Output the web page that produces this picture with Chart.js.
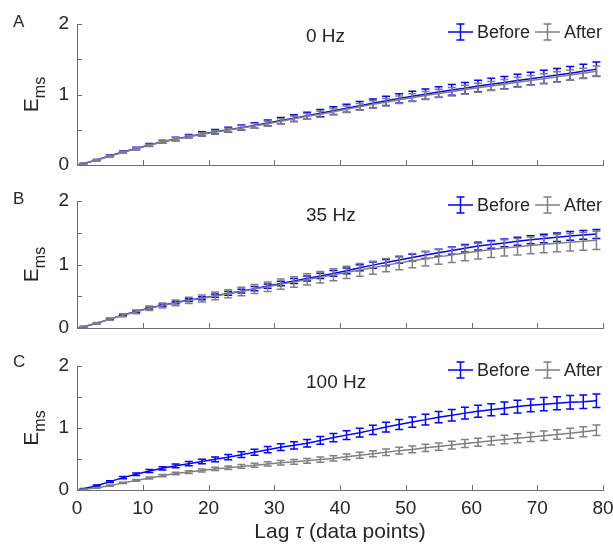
<!DOCTYPE html>
<html>
<head>
<meta charset="utf-8">
<script src="https://cdn.jsdelivr.net/npm/chart.js@4.4.0/dist/chart.umd.min.js"></script>
<style>
  html, body { margin: 0; padding: 0; background: #fff; }
  #wrap { position: relative; width: 613px; height: 548px; }
  canvas { position: absolute; left: 0; }
</style>
</head>
<body>
<div id="wrap">
  <canvas id="panelA" width="613" height="180" style="top:0px"></canvas>
  <canvas id="panelB" width="613" height="165" style="top:180px"></canvas>
  <canvas id="panelC" width="613" height="203" style="top:345px"></canvas>
</div>
<script>
// lag values (data points) where the curves / error bars sit
const lags = [0, 1, 3, 5, 7, 9, 11, 13, 15, 17, 19, 21, 23, 25, 27, 29, 31, 33, 35, 37, 39,
  41, 43, 45, 47, 49, 51, 53, 55, 57, 59, 61, 63, 65, 67, 69, 71, 73, 75, 77, 79];

// A - 0 Hz
const beforeA = [0, 0.02, 0.07, 0.13, 0.185, 0.235, 0.285, 0.33, 0.37, 0.405, 0.44, 0.47, 0.50, 0.53, 0.56, 0.595,
  0.63, 0.665, 0.70, 0.735, 0.77, 0.805, 0.84, 0.875, 0.91, 0.945, 0.975, 1.005, 1.035, 1.065, 1.09,
  1.12, 1.145, 1.17, 1.20, 1.225, 1.25, 1.275, 1.30, 1.33, 1.36];
const beforeAErr = [0, 0.004, 0.008, 0.012, 0.015, 0.017, 0.02, 0.022, 0.025, 0.027, 0.03, 0.032, 0.035, 0.037, 0.04, 0.042,
  0.045, 0.047, 0.05, 0.052, 0.055, 0.057, 0.06, 0.062, 0.065, 0.067, 0.07, 0.072, 0.075, 0.077, 0.08,
  0.082, 0.084, 0.087, 0.089, 0.091, 0.093, 0.095, 0.097, 0.099, 0.10];
const afterA = [0, 0.02, 0.07, 0.125, 0.18, 0.23, 0.28, 0.325, 0.365, 0.40, 0.435, 0.465, 0.495, 0.525, 0.555, 0.585,
  0.62, 0.655, 0.69, 0.72, 0.755, 0.79, 0.825, 0.86, 0.89, 0.925, 0.955, 0.985, 1.015, 1.04, 1.07,
  1.095, 1.12, 1.145, 1.175, 1.20, 1.225, 1.25, 1.275, 1.30, 1.33];
const afterAErr = [0, 0.004, 0.008, 0.01, 0.012, 0.014, 0.016, 0.018, 0.02, 0.022, 0.024, 0.026, 0.028, 0.03, 0.032, 0.034,
  0.036, 0.038, 0.04, 0.042, 0.044, 0.046, 0.048, 0.05, 0.052, 0.054, 0.056, 0.057, 0.059, 0.06, 0.062,
  0.063, 0.065, 0.066, 0.068, 0.069, 0.07, 0.072, 0.073, 0.074, 0.075];

// B - 35 Hz
const beforeB = [0, 0.02, 0.075, 0.14, 0.205, 0.26, 0.315, 0.36, 0.40, 0.44, 0.47, 0.51, 0.545, 0.58, 0.62, 0.66,
  0.70, 0.74, 0.78, 0.82, 0.86, 0.90, 0.95, 0.99, 1.03, 1.07, 1.11, 1.15, 1.185, 1.22, 1.255,
  1.29, 1.315, 1.34, 1.365, 1.39, 1.41, 1.43, 1.45, 1.465, 1.48];
const beforeBErr = [0, 0.004, 0.007, 0.01, 0.012, 0.014, 0.016, 0.018, 0.02, 0.022, 0.024, 0.026, 0.028, 0.03, 0.032, 0.034,
  0.036, 0.038, 0.04, 0.042, 0.044, 0.045, 0.047, 0.048, 0.05, 0.051, 0.053, 0.054, 0.056, 0.057, 0.058,
  0.06, 0.061, 0.062, 0.063, 0.064, 0.066, 0.067, 0.068, 0.069, 0.07];
const afterB = [0, 0.02, 0.075, 0.14, 0.20, 0.255, 0.31, 0.355, 0.395, 0.435, 0.465, 0.505, 0.54, 0.575, 0.615, 0.65,
  0.69, 0.725, 0.765, 0.80, 0.84, 0.875, 0.915, 0.95, 0.99, 1.025, 1.06, 1.09, 1.12, 1.15, 1.18,
  1.21, 1.235, 1.26, 1.28, 1.30, 1.32, 1.335, 1.35, 1.365, 1.38];
const afterBErr = [0, 0.006, 0.012, 0.018, 0.024, 0.03, 0.035, 0.04, 0.045, 0.05, 0.055, 0.06, 0.064, 0.068, 0.072, 0.076,
  0.08, 0.084, 0.088, 0.091, 0.094, 0.097, 0.10, 0.103, 0.106, 0.109, 0.112, 0.114, 0.117, 0.119, 0.121,
  0.123, 0.126, 0.128, 0.13, 0.132, 0.134, 0.136, 0.138, 0.14, 0.142];

// C - 100 Hz
const beforeC = [0, 0.02, 0.07, 0.135, 0.20, 0.255, 0.305, 0.35, 0.39, 0.425, 0.46, 0.495, 0.53, 0.57, 0.61, 0.65,
  0.69, 0.72, 0.755, 0.80, 0.845, 0.885, 0.925, 0.97, 1.015, 1.055, 1.095, 1.135, 1.175, 1.205, 1.24,
  1.27, 1.295, 1.32, 1.345, 1.365, 1.385, 1.40, 1.415, 1.425, 1.44];
const beforeCErr = [0, 0.005, 0.01, 0.014, 0.018, 0.021, 0.024, 0.027, 0.03, 0.033, 0.036, 0.039, 0.042, 0.045, 0.048, 0.051,
  0.054, 0.057, 0.06, 0.063, 0.066, 0.069, 0.072, 0.075, 0.078, 0.081, 0.084, 0.087, 0.09, 0.092, 0.094,
  0.096, 0.098, 0.10, 0.102, 0.103, 0.105, 0.106, 0.108, 0.109, 0.11];
const afterC = [0, 0.01, 0.035, 0.07, 0.115, 0.155, 0.195, 0.23, 0.265, 0.29, 0.315, 0.34, 0.36, 0.38, 0.40, 0.42,
  0.44, 0.455, 0.47, 0.49, 0.51, 0.535, 0.56, 0.585, 0.61, 0.635, 0.655, 0.68, 0.70, 0.725, 0.75,
  0.77, 0.795, 0.815, 0.835, 0.855, 0.875, 0.895, 0.915, 0.94, 0.965];
const afterCErr = [0, 0.004, 0.007, 0.01, 0.012, 0.014, 0.016, 0.018, 0.02, 0.022, 0.024, 0.026, 0.028, 0.03, 0.032, 0.034,
  0.036, 0.038, 0.04, 0.042, 0.044, 0.046, 0.048, 0.05, 0.052, 0.054, 0.056, 0.058, 0.06, 0.062, 0.064,
  0.066, 0.068, 0.07, 0.072, 0.074, 0.076, 0.078, 0.08, 0.082, 0.085];

const FONT = '"Liberation Sans", Arial, Helvetica, sans-serif';
const INK = '#262626';
const AXIS = '#6e6e6e';
const BLUE = '#0000ff';
const GRAY = '#808080';

// vertical error bars drawn right after their own line so the layering follows the datasets
const errorBars = {
  id: 'errorBars',
  afterDatasetDraw(chart, args) {
    const ds = chart.data.datasets[args.index];
    if (!ds.errors) return;
    const { ctx, scales: { x, y } } = chart;
    ctx.save();
    ctx.strokeStyle = ds.borderColor;
    ctx.lineWidth = 1.5;
    ctx.beginPath();
    ds.data.forEach((p, i) => {
      const e = ds.errors[i];
      if (!e) return;
      const px = x.getPixelForValue(p.x);
      const top = y.getPixelForValue(p.y + e);
      const bot = y.getPixelForValue(p.y - e);
      ctx.moveTo(px, top); ctx.lineTo(px, bot);
      ctx.moveTo(px - 4, top); ctx.lineTo(px + 4, top);
      ctx.moveTo(px - 4, bot); ctx.lineTo(px + 4, bot);
    });
    ctx.stroke();
    ctx.restore();
  }
};

function legendItem(ctx, x0, yc, color, label) {
  ctx.strokeStyle = color;
  ctx.lineWidth = 1.5;
  ctx.beginPath();
  ctx.moveTo(x0, yc); ctx.lineTo(x0 + 25, yc);
  ctx.moveTo(x0 + 12.5, yc - 8); ctx.lineTo(x0 + 12.5, yc + 8);
  ctx.moveTo(x0 + 8.5, yc - 8); ctx.lineTo(x0 + 16.5, yc - 8);
  ctx.moveTo(x0 + 8.5, yc + 8); ctx.lineTo(x0 + 16.5, yc + 8);
  ctx.stroke();
  ctx.fillStyle = INK;
  ctx.fillText(label, x0 + 29, yc + 1);
}

// inward ticks, panel letter, title, E_ms label, legend, x label
const decor = {
  id: 'decor',
  afterDraw(chart, args, o) {
    const { ctx, chartArea: a, scales: { x, y } } = chart;
    ctx.save();
    ctx.strokeStyle = AXIS;
    ctx.lineWidth = 1;
    ctx.beginPath();
    y.ticks.forEach(t => {
      const py = Math.round(y.getPixelForValue(t.value)) + 0.5;
      ctx.moveTo(a.left, py); ctx.lineTo(a.left + 5, py);
    });
    x.ticks.forEach(t => {
      const px = Math.round(x.getPixelForValue(t.value)) + 0.5;
      ctx.moveTo(px, a.bottom); ctx.lineTo(px, a.bottom - 5);
    });
    ctx.stroke();

    ctx.fillStyle = INK;
    ctx.textAlign = 'left';
    ctx.textBaseline = 'middle';
    ctx.font = `17px ${FONT}`;
    ctx.fillText(o.letter, 13, o.letterY);

    ctx.font = `19px ${FONT}`;
    ctx.fillText(o.title, 306, a.top + o.titleDy);

    // legend
    ctx.font = `18px ${FONT}`;
    const ly = a.top + o.legendDy;
    const [dsAfter, dsBefore] = chart.data.datasets;
    legendItem(ctx, 448, ly, dsBefore.borderColor, dsBefore.label);
    legendItem(ctx, 535, ly, dsAfter.borderColor, dsAfter.label);

    // y label E with subscript ms, rotated
    ctx.save();
    ctx.translate(38, (a.top + a.bottom) / 2);
    ctx.rotate(-Math.PI / 2);
    ctx.textBaseline = 'alphabetic';
    ctx.font = `21px ${FONT}`;
    const wE = ctx.measureText('E').width;
    ctx.font = `16px ${FONT}`;
    const wS = ctx.measureText('ms').width;
    const x0 = -(wE + wS) / 2;
    ctx.font = `21px ${FONT}`;
    ctx.fillText('E', x0, 0);
    ctx.font = `16px ${FONT}`;
    ctx.fillText('ms', x0 + wE, 7);
    ctx.restore();

    if (o.xLabel) {
      const parts = [['Lag ', `21px ${FONT}`], ['τ', `italic 21px ${FONT}`], [' (data points)', `21px ${FONT}`]];
      let total = 0;
      parts.forEach(p => { ctx.font = p[1]; total += ctx.measureText(p[0]).width; });
      let cx = (a.left + a.right) / 2 - total / 2;
      ctx.textBaseline = 'middle';
      parts.forEach(p => {
        ctx.font = p[1];
        ctx.fillText(p[0], cx, o.xLabelY);
        cx += ctx.measureText(p[0]).width;
      });
    }
    ctx.restore();
  }
};

function makePanel(id, before, beforeErr, after, afterErr, d) {
  const pts = vals => lags.map((l, i) => ({ x: l, y: vals[i] }));
  return new Chart(document.getElementById(id), {
    type: 'line',
    data: {
      datasets: [
        { label: 'After', data: pts(after), errors: afterErr, borderColor: GRAY, borderWidth: 1.5,
          pointRadius: 0, fill: false, tension: 0, order: 1 },
        { label: 'Before', data: pts(before), errors: beforeErr, borderColor: BLUE, borderWidth: 1.5,
          pointRadius: 0, fill: false, tension: 0, order: 2 }
      ]
    },
    options: {
      responsive: false,
      animation: false,
      devicePixelRatio: 1,
      layout: { padding: { top: d.top, right: 10, bottom: 0, left: 0 } },
      plugins: {
        legend: { display: false },
        tooltip: { enabled: false },
        decor: d
      },
      scales: {
        x: {
          type: 'linear', min: 0, max: 80,
          ticks: { stepSize: 10, display: d.xLabel, color: INK, font: { family: FONT, size: 19 }, padding: 7, maxRotation: 0 },
          grid: { display: false, drawTicks: false },
          border: { display: true, color: AXIS, width: 1 },
          afterFit(s) { s.height = d.xHeight; s.paddingLeft = 0; s.paddingRight = 0; }
        },
        y: {
          min: 0, max: 2,
          ticks: { stepSize: 0.5, autoSkip: false, color: INK, font: { family: FONT, size: 19 }, padding: 8,
            callback: v => (Number.isInteger(v) ? v : '') },
          grid: { display: false, drawTicks: false },
          border: { display: true, color: AXIS, width: 1 },
          afterFit(s) { s.width = 77; s.paddingTop = 0; s.paddingBottom = 0; }
        }
      }
    },
    plugins: [errorBars, decor]
  });
}

makePanel('panelA', beforeA, beforeAErr, afterA, afterAErr,
  { letter: 'A', letterY: 22, title: '0 Hz', titleDy: 13, legendDy: 8, top: 24, xHeight: 15, xLabel: false });
makePanel('panelB', beforeB, beforeBErr, afterB, afterBErr,
  { letter: 'B', letterY: 19, title: '35 Hz', titleDy: 14.5, legendDy: 4, top: 21, xHeight: 17, xLabel: false });
makePanel('panelC', beforeC, beforeCErr, afterC, afterCErr,
  { letter: 'C', letterY: 17, title: '100 Hz', titleDy: 16.5, legendDy: 4, top: 21, xHeight: 58, xLabel: true, xLabelY: 187 });
</script>
</body>
</html>
